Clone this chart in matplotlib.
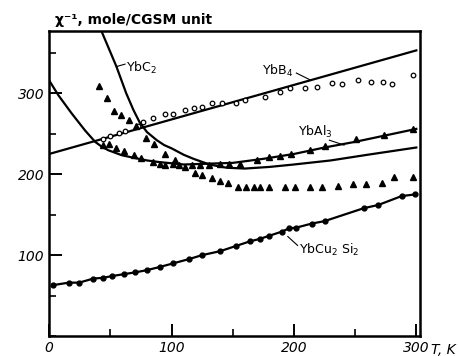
import matplotlib
matplotlib.use("Agg")
import matplotlib.pyplot as plt
from matplotlib.ticker import MultipleLocator

# --- data (T in K, chi^-1 in mole/CGSM unit) ---
# YbB4: straight fit line and open-circle data
ybb4_fit_t = [0, 300]
ybb4_fit_y = [225, 353]
ybb4_t = [44, 50, 57, 62, 73, 77, 85, 95, 101.5, 111, 118, 125, 133, 141, 153,
          160, 176, 189, 197, 209, 218.5, 231, 239, 252, 263, 273, 280, 297]
ybb4_y = [244, 247, 251, 254, 260, 265, 270, 275, 275, 279, 282, 283, 288, 288, 288,
          292, 296, 301, 306, 306, 308, 313, 312, 317, 314, 314, 312, 322]

# YbC2: fit curve and triangle data
ybc2_fit_t = [43, 50, 55, 63, 69, 74, 80, 88, 94, 100, 110, 118, 131, 145, 160, 180,
              200, 230, 260, 300]
ybc2_fit_y = [376, 351, 333, 300, 279, 264, 252, 242, 236, 232, 224, 219, 212, 208,
              207, 209, 212, 217, 224, 233]
ybc2_t = [41, 47, 53, 59, 65, 71, 79, 86, 95, 103, 119, 125, 133, 140, 146, 154, 161,
          167, 172, 180, 193, 201, 213, 223, 236, 248, 259, 272, 282, 297]
ybc2_y = [309, 294, 278, 273, 267, 260, 245, 237, 225.5, 217, 201.6, 199, 195, 192, 189,
          184, 184, 184, 184, 184, 184, 184, 184, 184, 186, 188, 188, 189, 196, 196]

# YbAl3: fit curve and triangle data
ybal3_fit_t = [0, 7.6, 18.5, 29.4, 37.6, 43, 48.4, 59.3, 70, 80, 90, 110, 130, 150,
               175, 200, 225, 250, 275, 300]
ybal3_fit_y = [316, 297.5, 275, 254, 240, 234, 229.6, 223.5, 220, 217, 215, 212, 213,
               214, 219, 225, 233, 240, 248, 256]
ybal3_t = [44, 49, 55, 61, 69, 75, 85, 91, 95, 101, 106, 111, 117, 123, 131, 140, 147,
           156, 169.5, 180, 189, 198, 213, 225, 251, 274, 297]
ybal3_y = [236, 237, 232, 229, 223.5, 220.6, 215, 213, 212, 213, 211, 209, 211, 212, 212,
           213, 213, 213, 218, 221, 223, 225.5, 229.6, 235, 244, 249, 256]

# YbCu2Si2: filled circles joined by a line
ybcu_t = [3.5, 16, 24.5, 36, 44, 51, 61, 70, 80, 91, 101, 114, 125, 140, 153, 164, 172,
          180, 190, 196, 202, 214.5, 225, 257, 269, 288, 299]
ybcu_y = [63, 66, 66, 71, 72, 74, 76.5, 78.6, 81.5, 85.6, 89.7, 95, 100, 105, 111.5, 117,
          120, 124, 129, 133, 134, 139, 142, 158, 162, 173, 175]

fig = plt.figure(figsize=(4.59, 3.56), dpi=100, facecolor="w")
ax = fig.add_axes([0.107, 0.056, 0.808, 0.857])

lw = 1.6
ax.plot(ybb4_fit_t, ybb4_fit_y, color="k", lw=lw)
ax.plot(ybb4_t, ybb4_y, "o", ms=3.3, mfc="w", mec="k", mew=0.9)

ax.plot(ybc2_fit_t, ybc2_fit_y, color="k", lw=lw)
ax.plot(ybc2_t, ybc2_y, "^", ms=3.8, color="k")

ax.plot(ybal3_fit_t, ybal3_fit_y, color="k", lw=lw)
ax.plot(ybal3_t, ybal3_y, "^", ms=3.8, color="k")

ax.plot(ybcu_t, ybcu_y, "-o", color="k", lw=lw, ms=3.5)

ax.set_xlim(0, 303)
ax.set_ylim(0, 377)

for s in ax.spines.values():
    s.set_linewidth(1.8)

ax.xaxis.set_major_locator(MultipleLocator(100))
ax.xaxis.set_minor_locator(MultipleLocator(50))
ax.set_yticks([100, 200, 300])
ax.yaxis.set_minor_locator(MultipleLocator(50))
ax.tick_params(which="major", direction="in", length=9, width=1.4,
               top=False, right=False, labelsize=10)
ax.tick_params(which="minor", direction="in", length=5, width=1.2,
               top=False, right=False)
for lab in ax.get_xticklabels() + ax.get_yticklabels():
    lab.set_fontstyle("italic")

# curve labels with short leader lines
lab_kw = dict(fontsize=9, color="k")
ax.text(63, 331, "YbC$_2$", va="center", **lab_kw)
ax.plot([55, 62], [333, 336], color="k", lw=0.8)
ax.text(174, 327, "YbB$_4$", va="center", **lab_kw)
ax.plot([202, 214], [325, 316], color="k", lw=0.8)
ax.text(203, 252, "YbAl$_3$", va="center", **lab_kw)
ax.plot([229, 241], [242, 236], color="k", lw=0.8)
ax.text(204, 107, "YbCu$_2$ Si$_2$", va="center", **lab_kw)
ax.plot([195, 203], [123, 112], color="k", lw=0.8)

fig.text(0.12, 0.945, "\u03c7\u207b\u00b9, mole/CGSM unit", fontsize=10,
         fontweight="bold", va="center")
fig.text(0.94, 0.018, "T, K", fontsize=10, fontstyle="italic", va="center")

fig.savefig("out.png", dpi=100)
